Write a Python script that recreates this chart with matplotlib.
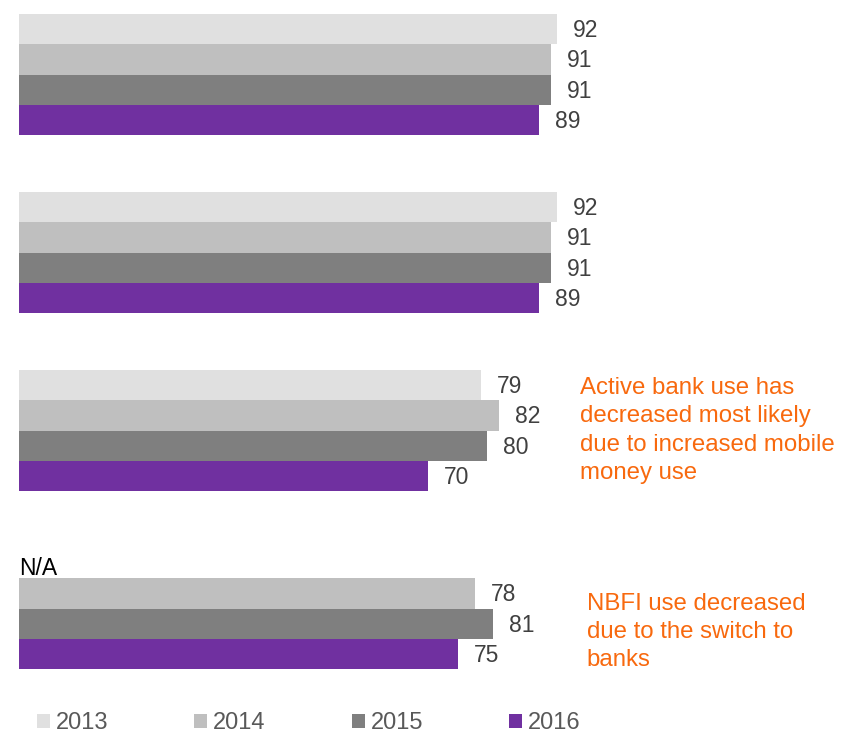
import numpy as np
import matplotlib.pyplot as plt
from matplotlib.patches import Patch

plt.rcParams['font.family'] = ['Liberation Sans', 'DejaVu Sans']

years = ['2013', '2014', '2015', '2016']
colors = ['#E0E0E0', '#BFBFBF', '#7F7F7F', '#7030A0']

# one row per group, one column per year (None = no data)
values = [
    [92, 91, 91, 89],
    [92, 91, 91, 89],
    [79, 82, 80, 70],
    [None, 78, 81, 75],
]
notes = [
    None,
    None,
    'Active bank use has\ndecreased most likely\ndue to increased mobile\nmoney use',
    'NBFI use decreased\ndue to the switch to\nbanks',
]
note_pos = [None, None, (95.9, 2.0), (97.1, 3.13)]

W, H = 848, 734
fig = plt.figure(figsize=(W / 100, H / 100), dpi=100)
ax = fig.add_axes([19 / W, 0, 1 - 19 / W, 1])

bar_h = 0.1708
for g, row in enumerate(values):
    for i, v in enumerate(row):
        y = g + (i - 1.5) * bar_h
        if v is None:
            ax.text(0, y + 0.03, 'N/A', fontsize=16.5, color='#000000',
                    va='center', ha='left')
            continue
        ax.barh(y, v, height=bar_h, color=colors[i], edgecolor='none')
        ax.annotate(str(v), (v, y), xytext=(11.5, -1), textcoords='offset points',
                    fontsize=16.5, color='#404040', va='center', ha='left')
    if notes[g]:
        ax.text(*note_pos[g], notes[g], fontsize=17.3, color='#F8690E',
                va='center', ha='left', linespacing=1.36)

ax.set_xlim(0, (W - 19) / 5.848)
ax.set_ylim((H - 74.5) / 178, -74.5 / 178)
ax.axis('off')

handles = [Patch(facecolor=c, edgecolor='none') for c in colors]
fig.legend(handles, years, loc='center left', bbox_to_anchor=(37 / W, 1 - 723 / H),
           ncol=4, frameon=False, fontsize=17, labelcolor='#595959',
           handlelength=0.55, handleheight=0.55, handletextpad=0.25,
           columnspacing=3.64, borderpad=0, borderaxespad=0)

fig.savefig('out.png', dpi=100)
